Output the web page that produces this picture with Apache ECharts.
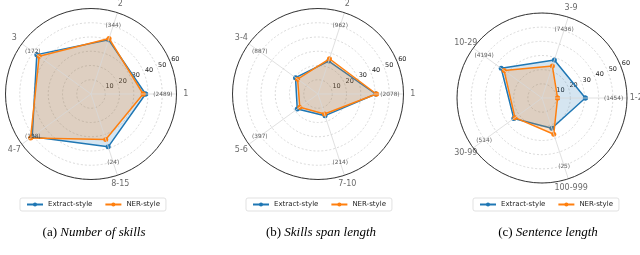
<!DOCTYPE html>
<html><head><meta charset="utf-8">
<script src="https://cdn.jsdelivr.net/npm/echarts@6/dist/echarts.min.js"></script>
<style>html,body{margin:0;padding:0;background:#fff}#c{width:640px;height:255px}</style>
</head><body><div id="c"></div>
<script>
// ---- data ----
const seriesNames = ['Extract-style', 'NER-style'];
const radialTicks = [10, 20, 30, 40, 50, 60];

const catsA = ['1', '2', '3', '4-7', '8-15'];
const extractA = [38.3, 40, 47, 51, 39];
const nerA = [36.6, 41, 45, 52.4, 33.5];
const countsA = ['(2489)', '(344)', '(172)', '(128)', '(24)'];

const catsB = ['1', '2', '3-4', '5-6', '7-10'];
const extractB = [40.5, 24.3, 19.5, 18, 16];
const nerB = [41, 26, 17.7, 15.8, 14.8];
const countsB = ['(2078)', '(962)', '(887)', '(397)', '(214)'];

const catsC = ['1-2', '3-9', '10-29', '30-99', '100-999'];
const extractC = [30.6, 28.2, 35.6, 24.6, 22.5];
const nerC = [11, 23.7, 33.1, 23.6, 26.9];
const countsC = ['(1454)', '(7436)', '(4194)', '(514)', '(25)'];

const captionLetters = ['(a) ', '(b) ', '(c) '];
const captionTitles = ['Number of skills', 'Skills span length', 'Sentence length'];

// ---- layout ----
const panels = [
  {cats: catsA, ext: extractA, ner: nerA, counts: countsA, center: [91, 94], radius: 85.5, legendLeft: 20, capX: 94},
  {cats: catsB, ext: extractB, ner: nerB, counts: countsB, center: [318, 94], radius: 85.5, legendLeft: 246, capX: 321},
  {cats: catsC, ext: extractC, ner: nerC, counts: countsC, center: [542, 98], radius: 85, legendLeft: 473, capX: 548}
];
const RMAX = 60, ANNOT_R = 50.5, CAT_R = 66.5, LABEL_ANGLE = 22.5;
const FONT = 'DejaVu Sans';
const BLUE = '#1f77b4', ORANGE = '#ff7f0e';

const polar = [], angleAxis = [], radiusAxis = [], series = [], legend = [], graphic = [];
panels.forEach((p, k) => {
  const n = p.cats.length, step = 360 / n;
  const pi = 2 * k, li = 2 * k + 1;
  polar.push({center: p.center, radius: p.radius});
  polar.push({center: p.center, radius: p.radius});
  angleAxis.push({
    polarIndex: pi, type: 'value', min: 0, max: 360, interval: step, startAngle: 0, clockwise: false, z: 5,
    axisLine: {lineStyle: {color: '#222', width: 0.9}},
    axisTick: {show: false}, axisLabel: {show: false},
    splitLine: {lineStyle: {color: '#d8d8d8', width: 0.8}}
  });
  angleAxis.push({
    polarIndex: li, type: 'value', min: 0, max: 360, startAngle: LABEL_ANGLE, clockwise: false,
    axisLine: {show: false}, axisTick: {show: false}, axisLabel: {show: false}, splitLine: {show: false}
  });
  radiusAxis.push({
    polarIndex: pi, type: 'value', min: 0, max: RMAX, interval: 10,
    axisLine: {show: false}, axisTick: {show: false}, axisLabel: {show: false}, splitLine: {show: false}
  });
  radiusAxis.push({
    polarIndex: li, type: 'value', min: 0, max: RMAX, interval: 10, z: 1,
    axisLine: {show: false}, axisTick: {show: false},
    axisLabel: {
      fontFamily: FONT, fontSize: 6.5, color: '#222', margin: 2, align: 'left', padding: [0, 0, 0, 2],
      formatter: v => radialTicks.indexOf(v) >= 0 ? String(v) : ''
    },
    splitLine: {lineStyle: {color: '#cfcfcf', width: 0.8, type: [2, 2]}}
  });
  const mk = (vals) => vals.map((v, i) => [v, i * step]).concat([[vals[0], 360]]);
  [[p.ext, BLUE, 'rgba(31,119,180,0.27)', seriesNames[0]], [p.ner, ORANGE, 'rgba(255,127,14,0.30)', seriesNames[1]]]
    .forEach(([vals, col, fill, name], j) => {
      series.push({
        name, type: 'line', coordinateSystem: 'polar', polarIndex: pi, data: mk(vals),
        symbol: 'circle', symbolSize: 5, showSymbol: true, animation: false, z: 3 + j,
        lineStyle: {color: col, width: 1.5}, itemStyle: {color: col},
        areaStyle: {color: fill, origin: 'start'}
      });
    });
  series.push({
    type: 'scatter', coordinateSystem: 'polar', polarIndex: pi, symbolSize: 0, silent: true, animation: false, z: 6,
    clip: false,
    data: p.cats.map((c, i) => [ANNOT_R, i * step]),
    label: {show: true, position: 'inside', fontFamily: FONT, fontSize: 5.8, color: '#333',
      formatter: d => p.counts[d.dataIndex]}
  });
  series.push({
    type: 'scatter', coordinateSystem: 'polar', polarIndex: pi, symbolSize: 0, silent: true, animation: false, z: 6,
    clip: false,
    data: p.cats.map((c, i) => [CAT_R, i * step]),
    label: {show: true, position: 'inside', fontFamily: FONT, fontSize: 8, color: '#444',
      formatter: d => p.cats[d.dataIndex]}
  });
  legend.push({
    data: seriesNames, left: p.legendLeft, top: 198, orient: 'horizontal',
    padding: [3, 6], itemGap: 12, itemWidth: 16, itemHeight: 5,
    borderColor: '#d9d9d9', borderWidth: 0.8, borderRadius: 2, backgroundColor: '#fff',
    textStyle: {fontFamily: FONT, fontSize: 7, color: '#222'}
  });
  graphic.push({
    type: 'text', x: p.capX, y: 233,
    style: {
      text: '{n|' + captionLetters[k] + '}{i|' + captionTitles[k] + '}',
      align: 'center', verticalAlign: 'middle',
      rich: {
        n: {fontFamily: 'Liberation Serif', fontSize: 13, color: '#111'},
        i: {fontFamily: 'Liberation Serif', fontSize: 13, fontStyle: 'italic', color: '#111'}
      }
    }
  });
});

const chart = echarts.init(document.getElementById('c'), null, {renderer: 'canvas'});
chart.setOption({
  animation: false, backgroundColor: '#fff',
  polar, angleAxis, radiusAxis, series, legend, graphic
});
</script></body></html>
